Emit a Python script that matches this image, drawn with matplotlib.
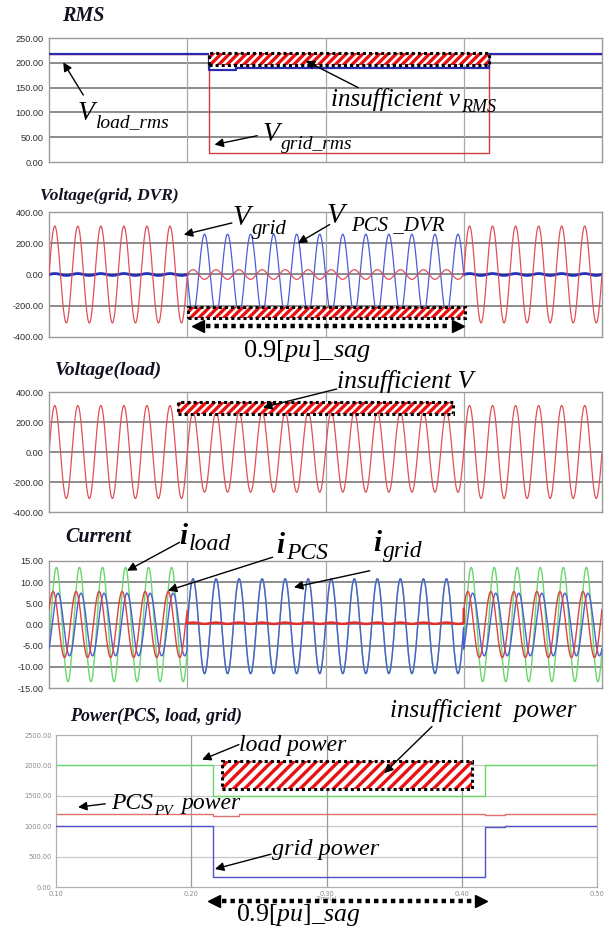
import numpy as np
import matplotlib
matplotlib.use("Agg")
import matplotlib.pyplot as plt
from matplotlib.patches import Rectangle

plt.rcParams['axes.unicode_minus'] = False
plt.rcParams['mathtext.fontset'] = 'custom'
plt.rcParams['mathtext.it'] = 'Liberation Serif:italic'
plt.rcParams['mathtext.rm'] = 'Liberation Serif'
plt.rcParams['hatch.linewidth'] = 2.4

# ---------------- data ----------------
freq_hz = 60
seg_edges = [0.1, 0.2, 0.4, 0.5]          # pre-sag, sag, post-sag (waveforms)

# Voltage(grid, DVR): amplitude / phase per segment
v_grid_amp = [310, 31, 310]
v_grid_phase = [0, 0, 0]
v_dvr_amp = [6, 258, 6]
v_dvr_phase = [0, 180, 0]
# Voltage(load)
v_load_amp = [310, 268, 310]
v_load_phase = [0, 0, 0]
# Current
i_load_amp = [13.5, 11.2, 13.5]
i_load_phase = [-26, 0, -26]
i_load_offset = [0.0, -0.4, 0.0]
i_pcs_amp = [7.8, 0.15, 7.8]
i_pcs_phase = [27, 0, 27]
i_pcs_offset = [0.0, 0.3, 0.0]
i_grid_amp = [7.4, 11.2, 7.4]
i_grid_phase = [-50, 0, -50]
i_grid_offset = [0.0, -0.4, 0.0]

# RMS (step values)
rms_times = [0.1, 0.216, 0.235, 0.418, 0.5]
v_load_rms = [218, 185, 190, 218]
v_grid_rms = [218, 18, 18, 218]

# Power (step values)
power_times = [0.1, 0.216, 0.235, 0.417, 0.432, 0.5]
load_power = [2000, 1500, 1500, 2000, 2000]
pcs_power = [1195, 1170, 1195, 1178, 1195]
grid_power = [1010, 160, 160, 985, 1010]

rms_yticks = [0, 50, 100, 150, 200, 250]
volt_yticks = [-400, -200, 0, 200, 400]
cur_yticks = [-15, -10, -5, 0, 5, 10, 15]
pow_yticks = [0, 500, 1000, 1500, 2000, 2500]
time_ticks = [0.1, 0.2, 0.3, 0.4, 0.5]

# ---------------- helpers ----------------
W, H = 607, 930
fig = plt.figure(figsize=(W / 100, H / 100), dpi=100)
renderer = fig.canvas.get_renderer()

t = np.linspace(0.1, 0.5, 6001)
seg_idx = np.clip(np.searchsorted(seg_edges, t, side='right') - 1, 0, 2)


def wave(amps, phases, offsets=(0, 0, 0)):
    a = np.asarray(amps, float)[seg_idx]
    p = np.deg2rad(np.asarray(phases, float))[seg_idx]
    o = np.asarray(offsets, float)[seg_idx]
    return o + a * np.sin(2 * np.pi * freq_hz * t + p)


def steps(times, vals):
    return list(times), list(vals) + [vals[-1]]


def make_ax(l, r, top, bot):
    return fig.add_axes([l / W, 1 - bot / H, (r - l) / W, (bot - top) / H])


TICK_FONT = ['Liberation Sans', 'DejaVu Sans']
SERIF = 'Liberation Serif'


def style_top(ax, yticks):
    ax.set_xlim(0.1, 0.5)
    ax.set_ylim(yticks[0], yticks[-1])
    ax.set_yticks(yticks)
    ax.set_yticklabels(['%.2f' % v for v in yticks], family=TICK_FONT,
                       fontsize=6.6, color='#303030')
    ax.set_xticks([])
    ax.tick_params(axis='y', length=0, pad=4)
    for s in ax.spines.values():
        s.set_color('#9a9a9a')
        s.set_linewidth(1.0)
    for v in yticks[1:-1]:
        ax.axhline(v, color='#6e6e6e', lw=1.1, zorder=0.5)
    for x in [0.2, 0.3, 0.4]:
        ax.axvline(x, color='#a8a8a8', lw=0.9, zorder=0.5)


def title(x, y, s, size=12.5):
    fig.text(x / W, 1 - y / H, s, family=SERIF, style='italic', weight='bold',
             fontsize=size, color='#111122', va='center', ha='left')


def hatch_box(ax, x0, x1, y0, y1, hatch='////'):
    ax.add_patch(Rectangle((x0, y0), x1 - x0, y1 - y0, facecolor='white',
                           edgecolor='#e81010', hatch=hatch, lw=0, zorder=5))
    ax.add_patch(Rectangle((x0, y0), x1 - x0, y1 - y0, fill=False,
                           edgecolor='black', lw=2.2, ls=(0, (1, 1)), zorder=6))


def arrow(ax, tail, head, lw=1.0):
    ax.annotate('', xy=head, xytext=tail, xycoords='data', textcoords='data',
                annotation_clip=False,
                arrowprops=dict(arrowstyle='-|>', color='black', lw=lw,
                                mutation_scale=13, shrinkA=0, shrinkB=0),
                zorder=8)


def dbl_arrow(ax, x0, x1, y):
    ax.plot([x0 + 0.006, x1 - 0.006], [y, y], color='black', lw=3.2,
            ls=(0, (1, 0.9)), clip_on=False, zorder=8, solid_capstyle='butt')
    ax.plot([x0], [y], marker='<', color='black', ms=8, clip_on=False, zorder=8)
    ax.plot([x1], [y], marker='>', color='black', ms=8, clip_on=False, zorder=8)


def label(ax, x, y, main, sub=None, size=20, subsize=14, drop=6, bold=False,
          gap=1, tail=None, tailsize=None):
    txt = ax.text(x, y, main, family=SERIF, style='italic',
                  weight='bold' if bold else 'normal', fontsize=size,
                  ha='left', va='baseline', clip_on=False, zorder=9)
    if sub is not None:
        bb = txt.get_window_extent(renderer=renderer)
        dx = bb.width * 72 / 100 + gap
        st = ax.annotate(sub, xy=(x, y), xycoords='data',
                         xytext=(dx, -drop * 72 / 100), textcoords='offset points',
                         family=SERIF, style='italic', fontsize=subsize,
                         ha='left', va='baseline', annotation_clip=False, zorder=9)
        if tail is not None:
            sb = st.get_window_extent(renderer=renderer)
            ax.annotate(tail, xy=(x, y), xycoords='data',
                        xytext=(dx + sb.width * 72 / 100 + 6, 0),
                        textcoords='offset points', family=SERIF, style='italic',
                        fontsize=tailsize or size, ha='left', va='baseline',
                        annotation_clip=False, zorder=9)
    return txt


RED = '#e0505a'
BLUE = '#4d5cd6'
DBLUE = '#2430b8'
GREEN = '#6ad86a'

# ---------------- Panel 1: RMS ----------------
ax1 = make_ax(49, 602, 38, 162)
style_top(ax1, rms_yticks)
x, y = steps(rms_times, v_grid_rms)
ax1.step(x, y, where='post', color='#d03a3a', lw=1.0, zorder=2)
x, y = steps(rms_times, v_load_rms)
ax1.step(x, y, where='post', color='#2a2ab0', lw=1.6, zorder=3)
hatch_box(ax1, 0.216, 0.418, 196, 219)
title(62, 16, 'RMS', size=14.5)
label(ax1, 0.1208, 85, 'V', 'load_rms', size=20, subsize=14, drop=7)
arrow(ax1, (0.1248, 135), (0.1103, 201))
label(ax1, 0.3040, 112, 'insufficient v', 'RMS', size=18, subsize=13, drop=6)
arrow(ax1, (0.3236, 150), (0.2857, 204))
label(ax1, 0.2548, 43, 'V', 'grid_rms', size=20, subsize=14, drop=8)
arrow(ax1, (0.2506, 53), (0.2197, 35))

# ---------------- Panel 2: Voltage(grid, DVR) ----------------
ax2 = make_ax(49, 602, 212, 337)
style_top(ax2, volt_yticks)
vg = wave(v_grid_amp, v_grid_phase)
vd = wave(v_dvr_amp, v_dvr_phase)
ax2.plot(t, vd, color=BLUE, lw=0.9, zorder=2)
vd_out = np.where((t < seg_edges[1]) | (t > seg_edges[2]), vd, np.nan)
ax2.plot(t, vd_out, color=DBLUE, lw=2.0, zorder=3)
ax2.plot(t, vg, color=RED, lw=0.9, zorder=4)
hatch_box(ax2, 0.2008, 0.4008, -279, -206)
dbl_arrow(ax2, 0.2075, 0.3960, -332)
title(40, 196, 'Voltage(grid, DVR)', size=12.5)
label(ax2, 0.2330, 318, 'V', 'grid', size=21, subsize=15, drop=9)
arrow(ax2, (0.2323, 330), (0.1975, 255))
label(ax2, 0.3010, 330, 'V', 'PCS _DVR', size=21, subsize=15, drop=7, gap=5)
arrow(ax2, (0.3030, 320), (0.2800, 200))
ax2.text(0.2404, -530, r'0.9[$pu$]_$sag$', family=SERIF, fontsize=19,
         ha='left', va='baseline', clip_on=False)

# ---------------- Panel 3: Voltage(load) ----------------
ax3 = make_ax(49, 602, 392, 512)
style_top(ax3, volt_yticks)
ax3.plot(t, wave(v_load_amp, v_load_phase), color=RED, lw=0.9, zorder=2)
hatch_box(ax3, 0.193, 0.3924, 256, 330)
title(55, 370, 'Voltage(load)', size=14)
label(ax3, 0.3081, 428, 'insufficient V', size=18.5)
arrow(ax3, (0.3081, 420), (0.2548, 297))

# ---------------- Panel 4: Current ----------------
ax4 = make_ax(49, 602, 561, 688)
style_top(ax4, cur_yticks)
ax4.plot(t, wave(i_load_amp, i_load_phase, i_load_offset), color=GREEN, lw=1.0, zorder=2)
ax4.plot(t, wave(i_grid_amp, i_grid_phase, i_grid_offset), color=BLUE, lw=1.0, zorder=3)
ip = wave(i_pcs_amp, i_pcs_phase, i_pcs_offset)
ax4.plot(t, ip, color='#e04040', lw=1.0, zorder=4)
ip_sag = np.where((t >= seg_edges[1]) & (t <= seg_edges[2]), ip, np.nan)
ax4.plot(t, ip_sag, color='#e03030', lw=1.8, zorder=4)
title(65, 537, 'Current', size=14.5)
label(ax4, 0.1944, 19, 'i', 'load', size=21, subsize=17, drop=6, bold=True)
arrow(ax4, (0.1944, 19.4), (0.1565, 12.7))
label(ax4, 0.2646, 17, 'i', 'PCS', size=21, subsize=17, drop=6, bold=True)
arrow(ax4, (0.2618, 15.9), (0.1860, 8.0))
label(ax4, 0.3348, 17.4, 'i', 'grid', size=21, subsize=17, drop=6, bold=True)
arrow(ax4, (0.332, 12.7), (0.2772, 8.8))

# ---------------- Panel 5: Power ----------------
ax5 = make_ax(56, 597, 735, 887)
ax5.set_xlim(0.1, 0.5)
ax5.set_ylim(0, 2500)
ax5.set_yticks(pow_yticks)
ax5.set_yticklabels(['%.2f' % v for v in pow_yticks], fontsize=4.8, color='#8a8a8a')
ax5.set_xticks(time_ticks)
ax5.set_xticklabels(['%.2f' % v for v in time_ticks], fontsize=4.8, color='#8a8a8a')
ax5.tick_params(length=0, pad=3)
for s in ax5.spines.values():
    s.set_color('#b0b0b0')
    s.set_linewidth(0.9)
for v in pow_yticks[1:-1]:
    ax5.axhline(v, color='#c8c8c8', lw=0.9, zorder=0.5)
for xv in [0.2, 0.3, 0.4]:
    ax5.axvline(xv, color='#9a9aa6', lw=0.9, zorder=0.5)
ax5.text(0.3, -150, 'Time(s)', fontsize=4.0, color='#8a8a8a', ha='center', va='top',
         clip_on=False)
x, y = steps(power_times, load_power)
ax5.step(x, y, where='post', color=GREEN, lw=1.0, zorder=2)
x, y = steps(power_times, pcs_power)
ax5.step(x, y, where='post', color='#e07070', lw=1.0, zorder=2)
x, y = steps(power_times, grid_power)
ax5.step(x, y, where='post', color='#5050c8', lw=1.0, zorder=3)
hatch_box(ax5, 0.2230, 0.4077, 1614, 2077, hatch='///')
title(70, 716, 'Power(PCS, load, grid)', size=13)
label(ax5, 0.2352, 2231, 'load power', size=17)
arrow(ax5, (0.2352, 2342), (0.208, 2094))
label(ax5, 0.347, 2800, 'insufficient  power', size=18)
arrow(ax5, (0.3780, 2640), (0.3427, 1873))
label(ax5, 0.1407, 1280, 'PCS', 'PV', size=17, subsize=11, drop=6, gap=1,
      tail='power', tailsize=17)
arrow(ax5, (0.1364, 1368), (0.1163, 1313))
label(ax5, 0.2600, 530, 'grid power', size=17.5)
arrow(ax5, (0.2590, 540), (0.2175, 296))
dbl_arrow(ax5, 0.2166, 0.4143, -231)
ax5.text(0.2330, -565, r'0.9[$pu$]_$sag$', family=SERIF, fontsize=18.5,
         ha='left', va='baseline', clip_on=False)

fig.savefig('out.png', dpi=100, facecolor='white')
